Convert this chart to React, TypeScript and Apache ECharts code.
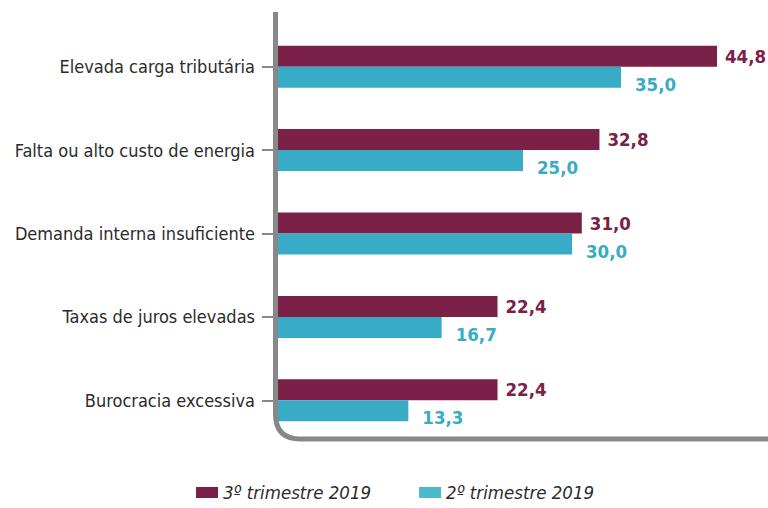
import React, { useEffect, useRef } from "react";
import * as echarts from "echarts";

const categories = [
  "Elevada carga tributária",
  "Falta ou alto custo de energia",
  "Demanda interna insuficiente",
  "Taxas de juros elevadas",
  "Burocracia excessiva",
];
const seriesNames = ["3º trimestre 2019", "2º trimestre 2019"];
const q3Values = [44.8, 32.8, 31.0, 22.4, 22.4];
const q2Values = [35.0, 25.0, 30.0, 16.7, 13.3];

const MAROON = "#7B2046";
const TEAL = "#38ABC7";
const TEAL_LEGEND = "#4BBBC9";
const AXIS_GRAY = "#88888b";
const FONT = "'Liberation Sans Narrow', 'DejaVu Sans Condensed', 'Noto Sans', sans-serif";

const fmt = (v: number) => v.toFixed(1).replace(".", ",");

export default function App() {
  const ref = useRef<HTMLDivElement>(null);
  useEffect(() => {
    if (!ref.current) return;
    echarts.graphic.registerShape(
      "axisL",
      echarts.graphic.extendPath(
        "M275.5 12 L275.5 414 Q275.5 439 300.5 439 L768 439",
        {}
      )
    );
    const chart = echarts.init(ref.current, null, { renderer: "svg" });
    chart.setOption({
      animation: false,
      textStyle: { fontFamily: FONT },
      grid: { left: 278, right: 0, top: 25, bottom: 66, containLabel: false },
      xAxis: {
        type: "value",
        min: 0,
        max: 50,
        show: false,
      },
      yAxis: {
        type: "category",
        data: categories,
        inverse: true,
        axisLine: { show: false },
        axisTick: {
          show: true,
          alignWithLabel: true,
          length: 16,
          lineStyle: { color: AXIS_GRAY, width: 2 },
        },
        axisLabel: {
          margin: 23,
          fontSize: 18,
          color: "#2b2b2b",
          fontFamily: FONT,
        },
      },
      legend: {
        data: [
          { name: seriesNames[0], itemStyle: { color: MAROON } },
          { name: seriesNames[1], itemStyle: { color: TEAL_LEGEND } },
        ],
        left: 194,
        top: 481,
        padding: 2,
        icon: "rect",
        itemWidth: 22,
        itemHeight: 11,
        itemGap: 48,
        textStyle: {
          fontSize: 18.5,
          fontStyle: "italic",
          color: "#2b2b2b",
          fontFamily: FONT,
        },
      },
      graphic: [
        {
          type: "axisL",
          x: 0,
          y: 0,
          z: 100,
          style: { stroke: AXIS_GRAY, lineWidth: 5, fill: null },
        },
      ],
      series: [
        {
          name: seriesNames[0],
          type: "bar",
          data: q3Values,
          barWidth: 21,
          barGap: "0%",
          itemStyle: { color: MAROON },
          label: {
            show: true,
            position: "right",
            distance: 8,
            formatter: (p: any) => fmt(p.value),
            color: MAROON,
            fontWeight: "bold",
            fontSize: 18.5,
            fontFamily: FONT,
          },
        },
        {
          name: seriesNames[1],
          type: "bar",
          data: q2Values,
          barWidth: 21,
          barGap: "0%",
          itemStyle: { color: TEAL },
          label: {
            show: true,
            position: "right",
            distance: 14,
            offset: [0, 7],
            formatter: (p: any) => fmt(p.value),
            color: TEAL,
            fontWeight: "bold",
            fontSize: 18.5,
            fontFamily: FONT,
          },
        },
      ],
    });
    return () => chart.dispose();
  }, []);
  return <div ref={ref} style={{ width: 768, height: 508, position: "absolute", left: 0, top: 0 }} />;
}
